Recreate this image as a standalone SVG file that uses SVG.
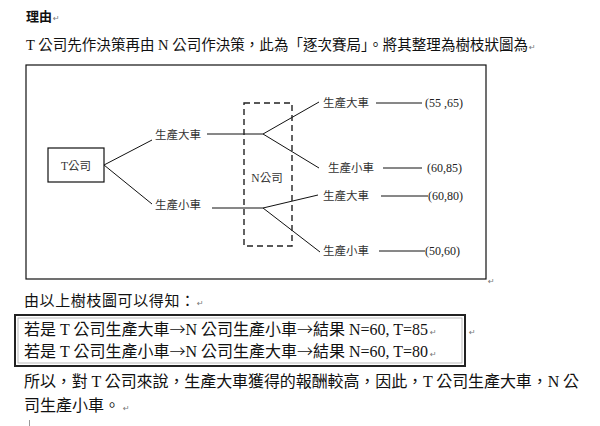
<svg xmlns="http://www.w3.org/2000/svg" width="600" height="426" viewBox="0 0 600 426">
<style>
.body{font-family:"Liberation Serif","Noto Sans CJK TC",serif;fill:#111;}
.arr{font-family:"Noto Sans CJK TC","DejaVu Sans",sans-serif;font-weight:300;}
.lbl{font-family:"Liberation Serif","Noto Sans CJK TC",serif;font-size:11.5px;fill:#333;}
.pay{font-family:"Liberation Serif",serif;font-size:12px;fill:#222;}
.pm{font-family:"DejaVu Sans",sans-serif;font-size:8px;fill:#777;}
.ln{stroke:#111;stroke-width:1;fill:none;}
</style>
<rect width="600" height="426" fill="#fff"/>
<g id="heading">
<text class="body" x="26" y="21" font-size="13" font-weight="bold">理由</text>
<text class="pm" x="53" y="21">↵</text>
<text class="body" x="26" y="50" font-size="14.5" textLength="502" lengthAdjust="spacing">T 公司先作決策再由 N 公司作決策，此為「逐次賽局」。將其整理為樹枝狀圖為</text>
<text class="pm" x="529" y="50">↵</text>
</g>
<g id="frame">
<rect x="26" y="65" width="460" height="214" fill="none" stroke="#111" stroke-width="1.2"/>
<text class="pm" x="488" y="284">↵</text>
</g>
<g id="connectors" class="ln">
<line x1="104" y1="165" x2="152" y2="140"/>
<line x1="104" y1="165" x2="152" y2="204"/>
<line x1="207" y1="134" x2="263" y2="134"/>
<line x1="212" y1="208" x2="263" y2="208"/>
<line x1="263" y1="134" x2="319" y2="102"/>
<line x1="263" y1="134" x2="319" y2="168"/>
<line x1="263" y1="208" x2="318" y2="195"/>
<line x1="263" y1="208" x2="320" y2="252"/>
<line x1="376" y1="103" x2="422" y2="103"/>
<line x1="383" y1="168" x2="422" y2="168"/>
<line x1="381" y1="196" x2="428" y2="196"/>
<line x1="379" y1="251" x2="425" y2="251"/>
</g>
<g id="t-company">
<rect x="48" y="148" width="56" height="34" fill="#fff" stroke="#111" stroke-width="1.2"/>
<text class="lbl" x="76" y="169.5" text-anchor="middle" font-size="12" fill="#222">T公司</text>
</g>
<g id="n-company">
<rect x="244" y="103" width="48" height="143" fill="none" stroke="#222" stroke-width="1.4" stroke-dasharray="6,4"/>
<text class="lbl" x="267" y="182" text-anchor="middle">N公司</text>
</g>
<g id="t-big"><text class="lbl" x="155" y="139">生產大車</text></g>
<g id="t-small"><text class="lbl" x="155" y="209">生產小車</text></g>
<g id="n-big-1"><text class="lbl" x="323" y="107">生產大車</text></g>
<g id="n-small-1"><text class="lbl" x="328" y="172">生產小車</text></g>
<g id="n-big-2"><text class="lbl" x="323" y="200">生產大車</text></g>
<g id="n-small-2"><text class="lbl" x="323" y="255">生產小車</text></g>
<g id="payoffs">
<text class="pay" x="425" y="107">(55 ,65)</text>
<text class="pay" x="427" y="172">(60,85)</text>
<text class="pay" x="428" y="200">(60,80)</text>
<text class="pay" x="425" y="255">(50,60)</text>
</g>
<g id="conclusion">
<text class="body" x="24" y="306" font-size="15" textLength="171" lengthAdjust="spacing">由以上樹枝圖可以得知：</text>
<text class="pm" x="197" y="306">↵</text>
<rect x="15" y="315" width="450" height="51" fill="none" stroke="#222" stroke-width="2"/>
<rect x="18" y="318" width="444" height="45" fill="none" stroke="#aaa" stroke-width="0.8"/>
<text class="body" x="24" y="335" font-size="16" textLength="404" lengthAdjust="spacing">若是 T 公司生產大車<tspan class="arr">→</tspan>N 公司生產小車<tspan class="arr">→</tspan>結果 N=60, T=85</text>
<text class="pm" x="430" y="335">↵</text>
<text class="pm" x="469" y="335">↵</text>
<text class="body" x="24" y="357" font-size="16" textLength="404" lengthAdjust="spacing">若是 T 公司生產小車<tspan class="arr">→</tspan>N 公司生產大車<tspan class="arr">→</tspan>結果 N=60, T=80</text>
<text class="pm" x="430" y="357">↵</text>
<text class="body" x="24" y="387" font-size="16" textLength="555" lengthAdjust="spacing">所以，對 T 公司來說，生產大車獲得的報酬較高，因此，T 公司生產大車，N 公</text>
<text class="body" x="24" y="411" font-size="16">司生產小車。</text>
<text class="pm" x="123" y="411">↵</text>
<line x1="29.5" y1="420" x2="29.5" y2="426" stroke="#999" stroke-width="1"/>
</g>
</svg>
